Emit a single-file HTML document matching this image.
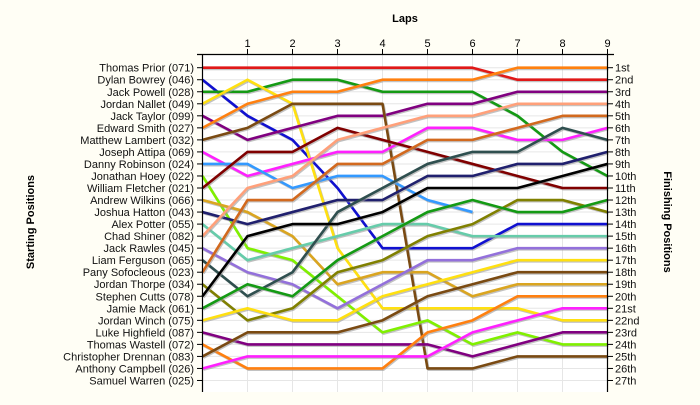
<!DOCTYPE html>
<html><head><meta charset="utf-8"><style>
body{margin:0;background:#fffef5;}
svg{display:block;font-family:"Liberation Sans",sans-serif;}
</style></head><body>
<svg width="700" height="405" viewBox="0 0 700 405">
<rect x="0" y="0" width="700" height="405" fill="#fffef5"/>
<rect x="202" y="54" width="405" height="338" fill="#ffffff"/>
<g id="grid"></g>
<g id="series"></g>
<g id="axes"></g>
<text x="405" y="22" font-size="11" font-weight="bold" text-anchor="middle">Laps</text>
<text transform="translate(34,222) rotate(-90)" font-size="11" font-weight="bold" text-anchor="middle">Starting Positions</text>
<text transform="translate(664,222) rotate(90)" font-size="11" font-weight="bold" text-anchor="middle">Finishing Positions</text>
</svg>
<script>
const laps = [0,1,2,3,4,5,6,7,8,9];
const drivers = ["Thomas Prior (071)","Dylan Bowrey (046)","Jack Powell (028)","Jordan Nallet (049)","Jack Taylor (099)","Edward Smith (027)","Matthew Lambert (032)","Joseph Attipa (069)","Danny Robinson (024)","Jonathan Hoey (022)","William Fletcher (021)","Andrew Wilkins (066)","Joshua Hatton (043)","Alex Potter (055)","Chad Shiner (082)","Jack Rawles (045)","Liam Ferguson (065)","Pany Sofocleous (023)","Jordan Thorpe (034)","Stephen Cutts (078)","Jamie Mack (061)","Jordan Winch (075)","Luke Highfield (087)","Thomas Wastell (072)","Christopher Drennan (083)","Anthony Campbell (026)","Samuel Warren (025)"];
const finishLabels = ["1st","2nd","3rd","4th","5th","6th","7th","8th","9th","10th","11th","12th","13th","14th","15th","16th","17th","18th","19th","20th","21st","22nd","23rd","24th","25th","26th","27th"];
const colors = ["#e01818","#1010d0","#149a14","#ffe010","#800080","#ff8010","#7a4a12","#ff20ff","#3399ff","#80f000","#800000","#daa520","#20206e","#66ccaa","#ffa07a","#9370db","#2f4f4f","#d2691e","#808000","#000000","#149a14","#ffe010","#800080","#ff8010","#7a4a12","#ff20ff",null];
const pos0  = [1,1,1,1,1,1,1,2,2,2];
const pos1  = [2,5,7,11,16,16,16,14,14,14];
const pos2  = [3,3,2,2,3,3,3,5,8,10];
const pos3  = [4,2,4,16,21,21,21,21,22,22];
const pos4  = [5,7,6,5,5,4,4,3,3,3];
const pos5  = [6,4,3,3,2,2,2,1,1,1];
const pos6  = [7,6,4,4,4,26,26,25,25,25];
const pos7  = [8,10,9,8,8,6,6,7,7,6];
const pos8  = [9,9,11,10,10,12,13];
const pos9  = [10,16,17,20,23,22,24,23,24,24];
const pos10 = [11,8,8,6,7,8,9,10,11,11];
const pos11 = [12,13,15,19,18,18,20,19,19,19];
const pos12 = [13,14,13,12,12,10,10,9,9,8];
const pos13 = [14,17,16,15,14,14,15,15,15,15];
const pos14 = [15,11,10,7,6,5,5,4,4,4];
const pos15 = [16,18,19,21,19,17,17,16,16,16];
const pos16 = [17,20,18,13,11,9,8,8,6,7];
const pos17 = [18,12,12,9,9,7,7,6,5,5];
const pos18 = [19,22,21,18,17,15,14,12,12,13];
const pos19 = [20,15,14,14,13,11,11,11,10,9];
const pos20 = [21,19,20,17,15,13,12,13,13,12];
const pos21 = [22,21,22,22,20,19,18,17,17,17];
const pos22 = [23,24,24,24,24,24,25,24,23,23];
const pos23 = [24,26,26,26,26,23,22,20,20,20];
const pos24 = [25,23,23,23,22,20,19,18,18,18];
const pos25 = [26,25,25,25,25,25,23,22,21,21];
const pos26 = [];
const positions = [pos0,pos1,pos2,pos3,pos4,pos5,pos6,pos7,pos8,pos9,pos10,pos11,pos12,pos13,pos14,pos15,pos16,pos17,pos18,pos19,pos20,pos21,pos22,pos23,pos24,pos25,pos26];

const NS="http://www.w3.org/2000/svg";
const X0=202.5, XW=45, Y0=67.7, YH=12.03;
function xScale(l){return X0+l*XW;}
function yScale(p){return Y0+(p-1)*YH;}
function mk(tag,attrs,parent){const e=document.createElementNS(NS,tag);for(const k in attrs)e.setAttribute(k,attrs[k]);parent.appendChild(e);return e;}
const grid=document.getElementById('grid'),series=document.getElementById('series'),axes=document.getElementById('axes');
for(let i=0;i<drivers.length;i++){
  const g=mk('line',{x1:202,x2:607,y1:yScale(i+1),y2:yScale(i+1),stroke:'#e6e6e6','stroke-width':1},grid);
  
  
}
for(const l of laps){
  if(l===0)continue;
  const g=mk('line',{x1:xScale(l),x2:xScale(l),y1:54,y2:392,stroke:'#e6e6e6','stroke-width':1},grid);
  
  
}
positions.forEach((arr,i)=>{
  if(!arr.length)return;
  const pts=arr.map((p,l)=>xScale(laps[l])+','+yScale(p)).join(' ');
  const sh=mk('polyline',{points:arr.map((p,l)=>(xScale(laps[l])+1)+','+(yScale(p)+1.2)).join(' '),fill:'none',stroke:'#9a9a9a','stroke-opacity':0.6,'stroke-width':2.6,'stroke-linejoin':'round'},series);
  
  
  const ln=mk('polyline',{points:pts,fill:'none',stroke:colors[i],'stroke-width':2.6,'stroke-linejoin':'round'},series);
  
  
});
// axes
let a=mk('line',{x1:197,x2:614,y1:54.5,y2:54.5,stroke:'#000','stroke-width':1.2},axes);

a=mk('line',{x1:202.5,x2:202.5,y1:54,y2:392,stroke:'#000','stroke-width':1.2},axes);

a=mk('line',{x1:607.5,x2:607.5,y1:54,y2:392,stroke:'#000','stroke-width':1.2},axes);

for(const l of laps){
  if(l===0)continue;
  const t=mk('line',{x1:xScale(l),x2:xScale(l),y1:49,y2:54,stroke:'#000'},axes);
  
  const tx=mk('text',{x:xScale(l),y:47,'font-size':11,'text-anchor':'middle'},axes);
  tx.textContent=l;
  
}
drivers.forEach((d,i)=>{
  const y=yScale(i+1);
  let t=mk('line',{x1:197,x2:202,y1:y,y2:y,stroke:'#000'},axes);
  
  let tx=mk('text',{x:194,y:y+4,'font-size':11,'text-anchor':'end',fill:'#111'},axes);
  tx.textContent=d;
  
  t=mk('line',{x1:607,x2:613,y1:y,y2:y,stroke:'#000'},axes);
  
  tx=mk('text',{x:615,y:y+4,'font-size':11,fill:'#111'},axes);
  tx.textContent=finishLabels[i];
  
});
</script>
</body></html>
